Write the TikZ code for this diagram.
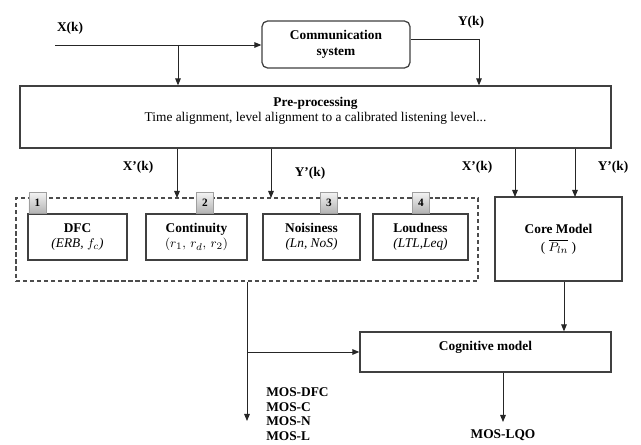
\documentclass[tikz,border=0pt]{standalone}
\usepackage{fontspec}
\setmainfont{Liberation Serif}
\usetikzlibrary{arrows.meta, positioning}

\begin{document}
\begin{tikzpicture}[
        x=0.025cm, y=-0.025cm,
        >={Triangle[length=5pt,width=4pt]},
        font=\fontsize{9.5}{11}\selectfont,
        block/.style={draw=black!75, line width=0.9pt, fill=white, align=center, inner sep=2pt},
        subblock/.style={block, minimum height=1.15cm},
        numtab/.style={draw=gray!75, line width=0.6pt, top color=gray!10, bottom color=gray!60, minimum width=0.425cm, minimum height=0.525cm, inner sep=0pt, font=\bfseries\fontsize{8}{9}\selectfont},
        group/.style={draw=black!70, dash pattern=on 3pt off 2pt, line width=1.1pt, minimum width=11.55cm, minimum height=2.075cm},
        sig/.style={font=\bfseries\fontsize{9.5}{11}\selectfont},
        wire/.style={->, line width=0.7pt, black!85}
    ]
    \useasboundingbox (0,0) rectangle (641,445);

    % Signals in
    \node[sig] (xk) at (70,28) {X(k)};
    \node[sig] (yk) at (471,22) {Y(k)};
    \coordinate (xin) at (55,45);
    \coordinate (xsplit) at (178,45);
    \coordinate (ysplit) at (479,39);

    % Main blocks
    \node[block, rounded corners=4pt, minimum width=3.7cm, minimum height=1.175cm, font=\bfseries\fontsize{9.5}{11}\selectfont] (comm) at (336,44.5) {Communication\\system};
    \node[block, minimum width=14.775cm, minimum height=1.55cm, text depth=0.37cm] (pre) at (315.5,117) {\textbf{Pre-processing}\\Time alignment, level alignment to a calibrated  listening level...};

    % Perceptual dimensions
    \node[group] (feat) at (247,239.5) {};
    \node[subblock, minimum width=2.475cm] (dfc) at (77.5,237) {\textbf{DFC}\\\textit{(ERB, $f_c$)}};
    \node[subblock, minimum width=2.525cm] (cont) at (196.5,237) {\textbf{Continuity}\\$(r_1,\, r_d,\, r_2)$};
    \node[subblock, minimum width=2.425cm] (nois) at (311.5,237) {\textbf{Noisiness}\\\textit{(Ln, NoS)}};
    \node[subblock, minimum width=2.375cm] (loud) at (420.5,237) {\textbf{Loudness}\\\textit{(LTL,Leq)}};
    \node[numtab] (t1) at (37.5,203) {1};
    \node[numtab] (t2) at (205,203) {2};
    \node[numtab] (t3) at (329,203) {3};
    \node[numtab] (t4) at (421,203) {4};

    \node[block, minimum width=3.175cm, minimum height=2.1cm] (core) at (558.5,239) {\textbf{Core Model}\\[2pt]( $\overline{P_{ln}}$ )};
    \node[block, minimum width=6.275cm, minimum height=1cm, text depth=0.32cm, font=\bfseries\fontsize{9.5}{11}\selectfont] (cog) at (485.5,352) {Cognitive model};

    % Labels between stages
    \node[sig] (xp1) at (138,167) {X'(k)};
    \node[sig] (yp1) at (310,173) {Y'(k)};
    \node[sig] (xp2) at (477,167) {X'(k)};
    \node[sig] (yp2) at (613,167) {Y'(k)};
    \coordinate (xa) at (177,198);
    \coordinate (ya) at (271,198);
    \coordinate (xc) at (515,197);
    \coordinate (yc) at (575,197);

    % Outputs
    \coordinate (mosout) at (247,421);
    \coordinate (lqo) at (503,422);
    \node[sig, anchor=north west, align=left, inner sep=0pt, font=\bfseries\fontsize{9.5}{10.6}\selectfont] (mos) at (266,387) {MOS-DFC\\MOS-C\\MOS-N\\MOS-L};
    \node[sig] (moslqo) at (503,435) {MOS-LQO};

    % Connections
    \draw[wire] (xin) -- (comm.west |- xin);
    \draw[wire] (xsplit) -- (xsplit |- pre.north);
    \draw[line width=0.7pt, black!85] (comm.east |- ysplit) -- (ysplit);
    \draw[wire] (ysplit) -- (ysplit |- pre.north);
    \draw[wire] (pre.south -| xa) -- (xa);
    \draw[wire] (pre.south -| ya) -- (ya);
    \draw[wire] (pre.south -| xc) -- (xc);
    \draw[wire] (pre.south -| yc) -- (yc);
    \draw[wire] (feat.south) -- (mosout);
    \draw[wire] (feat.south |- cog.west) -- (cog.west);
    \draw[wire] (core.south -| 564,0) -- (cog.north -| 564,0);
    \draw[wire] (cog.south -| lqo) -- (lqo);

\end{tikzpicture}
\end{document}
